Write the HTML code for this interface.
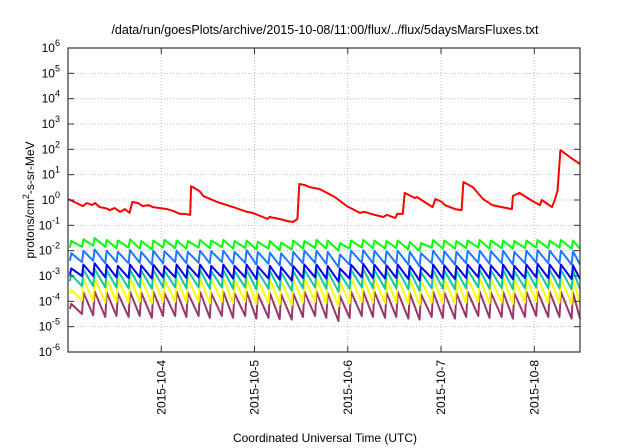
<!DOCTYPE html>
<html><head><meta charset="utf-8"><style>
body{margin:0;background:#fff;}
svg{display:block;font-family:"Liberation Sans",sans-serif;}
</style></head><body>
<svg id="chart" width="640" height="448">
<text x="325" y="34" text-anchor="middle" font-size="12.5">/data/run/goesPlots/archive/2015-10-08/11:00/flux/../flux/5daysMarsFluxes.txt</text>
<text x="325" y="442" text-anchor="middle" font-size="12">Coordinated Universal Time (UTC)</text>
<text transform="translate(34,200) rotate(-90)" text-anchor="middle" font-size="12">protons/cm<tspan dy="-5" font-size="9">2</tspan><tspan dy="5">-s-sr-MeV</tspan></text>
<g id="grid"></g><g id="series"></g><g id="axes"></g>
</svg>
<script>
const xTickLabels=["2015-10-4","2015-10-5","2015-10-6","2015-10-7","2015-10-8"];
const xTickDays=[1,2,3,4,5];
const yTickExps=[-6,-5,-4,-3,-2,-1,0,1,2,3,4,5,6];
const redT=[0,0.16,0.20,0.26,0.29,0.34,0.40,0.45,0.50,0.56,0.61,0.66,0.69,0.75,0.80,0.86,0.91,0.99,1.06,1.13,1.20,1.25,1.31,1.32,1.41,1.45,1.60,1.77,1.92,1.98,2.09,2.14,2.16,2.27,2.35,2.41,2.46,2.48,2.54,2.59,2.70,2.86,2.99,3.13,3.18,3.29,3.38,3.42,3.51,3.53,3.59,3.61,3.72,3.74,3.91,3.94,4.01,4.04,4.15,4.22,4.24,4.34,4.45,4.55,4.65,4.76,4.77,4.84,4.98,5.06,5.08,5.19,5.22,5.25,5.28,5.41,5.49];
const redLog=[0.04,-0.24,-0.12,-0.20,-0.12,-0.28,-0.32,-0.40,-0.32,-0.47,-0.36,-0.51,-0.08,-0.12,-0.24,-0.20,-0.28,-0.32,-0.36,-0.44,-0.55,-0.55,-0.59,0.55,0.35,0.16,-0.08,-0.28,-0.47,-0.51,-0.67,-0.75,-0.67,-0.75,-0.83,-0.87,-0.75,0.63,0.59,0.51,0.43,0.12,-0.24,-0.51,-0.47,-0.59,-0.67,-0.59,-0.71,-0.55,-0.55,0.28,0.08,0.12,-0.28,0.04,-0.08,-0.20,-0.36,-0.40,0.71,0.51,0.04,-0.20,-0.28,-0.36,0.16,0.28,-0.04,-0.20,0.00,-0.28,0.00,0.39,1.97,1.62,1.42];
const teethT=[0.02,0.15,0.27,0.40,0.52,0.65,0.77,0.90,1.02,1.15,1.27,1.40,1.52,1.65,1.77,1.90,2.02,2.15,2.27,2.40,2.52,2.65,2.77,2.90,3.02,3.15,3.27,3.40,3.52,3.65,3.77,3.90,4.02,4.15,4.27,4.40,4.52,4.65,4.77,4.90,5.02,5.15,5.27,5.40];
const greenPeak=[-1.62,-1.55,-1.50,-1.58,-1.60,-1.55,-1.62,-1.60,-1.57,-1.60,-1.62,-1.58,-1.60,-1.58,-1.62,-1.60,-1.65,-1.62,-1.68,-1.60,-1.62,-1.58,-1.60,-1.70,-1.60,-1.58,-1.60,-1.62,-1.60,-1.65,-1.70,-1.58,-1.60,-1.62,-1.60,-1.58,-1.60,-1.60,-1.62,-1.60,-1.58,-1.60,-1.58,-1.60];
const greenLow=[-1.88,-1.85,-1.80,-1.85,-1.90,-1.88,-1.92,-1.95,-1.88,-1.90,-1.92,-1.88,-1.90,-1.86,-1.92,-1.90,-1.95,-1.92,-1.98,-1.95,-1.92,-1.90,-1.92,-2.00,-1.92,-1.88,-1.90,-1.92,-1.90,-1.95,-2.02,-1.88,-1.92,-1.92,-1.90,-1.88,-1.92,-1.90,-1.92,-1.90,-1.88,-1.90,-1.88,-1.92];
const lblPeak=[-2.10,-2.00,-1.95,-2.00,-2.05,-1.98,-2.05,-2.00,-2.02,-2.00,-2.05,-2.00,-2.02,-2.00,-2.05,-1.98,-2.05,-2.08,-2.10,-2.05,-2.00,-2.00,-2.05,-2.15,-2.00,-1.98,-2.00,-2.02,-2.00,-2.05,-2.10,-2.00,-2.02,-2.05,-2.00,-2.00,-2.02,-2.00,-2.05,-2.00,-1.98,-2.00,-2.00,-2.02];
const lblLow=[-2.40,-2.45,-2.40,-2.50,-2.45,-2.50,-2.48,-2.55,-2.50,-2.45,-2.50,-2.48,-2.50,-2.45,-2.52,-2.48,-2.55,-2.52,-2.58,-2.60,-2.50,-2.48,-2.52,-2.65,-2.55,-2.48,-2.50,-2.52,-2.50,-2.55,-2.62,-2.50,-2.52,-2.55,-2.50,-2.48,-2.52,-2.50,-2.55,-2.50,-2.48,-2.50,-2.50,-2.55];
const bluePeak=[-2.70,-2.55,-2.50,-2.55,-2.60,-2.55,-2.58,-2.55,-2.60,-2.55,-2.58,-2.55,-2.60,-2.55,-2.60,-2.55,-2.62,-2.60,-2.65,-2.60,-2.55,-2.55,-2.60,-2.70,-2.55,-2.52,-2.55,-2.58,-2.55,-2.60,-2.65,-2.55,-2.58,-2.60,-2.55,-2.55,-2.58,-2.55,-2.60,-2.55,-2.52,-2.55,-2.55,-2.58];
const blueLow=[-2.95,-3.00,-3.00,-3.05,-3.05,-3.08,-3.05,-3.10,-3.05,-3.05,-3.08,-3.05,-3.10,-3.05,-3.10,-3.05,-3.12,-3.10,-3.15,-3.18,-3.08,-3.05,-3.10,-3.22,-3.10,-3.05,-3.08,-3.10,-3.08,-3.12,-3.18,-3.08,-3.10,-3.12,-3.08,-3.05,-3.10,-3.08,-3.12,-3.08,-3.05,-3.08,-3.08,-3.12];
const tealPeak=[-2.95,-2.75,-2.72,-2.78,-2.80,-2.75,-2.78,-2.75,-2.80,-2.75,-2.78,-2.75,-2.80,-2.75,-2.80,-2.75,-2.82,-2.80,-2.85,-2.80,-2.75,-2.75,-2.80,-2.90,-2.75,-2.72,-2.75,-2.78,-2.75,-2.80,-2.85,-2.75,-2.78,-2.80,-2.75,-2.75,-2.78,-2.75,-2.80,-2.75,-2.72,-2.75,-2.75,-2.78];
const tealLow=[-3.20,-3.40,-3.40,-3.45,-3.45,-3.48,-3.45,-3.50,-3.45,-3.45,-3.48,-3.45,-3.50,-3.45,-3.50,-3.45,-3.52,-3.50,-3.55,-3.58,-3.48,-3.45,-3.50,-3.62,-3.50,-3.45,-3.48,-3.50,-3.48,-3.52,-3.58,-3.48,-3.50,-3.52,-3.48,-3.45,-3.50,-3.48,-3.52,-3.48,-3.45,-3.48,-3.48,-3.52];
const yelPeak=[-3.55,-3.10,-3.05,-3.10,-3.12,-3.08,-3.10,-3.08,-3.12,-3.08,-3.10,-3.08,-3.12,-3.08,-3.12,-3.08,-3.15,-3.12,-3.18,-3.12,-3.08,-3.08,-3.12,-3.22,-3.08,-3.05,-3.08,-3.10,-3.08,-3.12,-3.18,-3.08,-3.10,-3.12,-3.08,-3.08,-3.10,-3.08,-3.12,-3.08,-3.05,-3.08,-3.08,-3.10];
const yelLow=[-3.70,-3.95,-4.00,-4.05,-4.02,-4.05,-4.02,-4.08,-4.02,-4.02,-4.05,-4.02,-4.08,-4.02,-4.08,-4.02,-4.10,-4.08,-4.12,-4.15,-4.05,-4.02,-4.08,-4.20,-4.08,-4.02,-4.05,-4.08,-4.05,-4.10,-4.15,-4.05,-4.08,-4.10,-4.05,-4.02,-4.08,-4.05,-4.10,-4.05,-4.02,-4.05,-4.05,-4.10];
const purPeak=[-4.10,-3.65,-3.60,-3.65,-3.68,-3.62,-3.65,-3.62,-3.68,-3.62,-3.65,-3.62,-3.68,-3.62,-3.68,-3.62,-3.70,-3.68,-3.72,-3.68,-3.62,-3.62,-3.68,-3.78,-3.62,-3.60,-3.62,-3.65,-3.62,-3.68,-3.72,-3.62,-3.65,-3.68,-3.62,-3.62,-3.65,-3.62,-3.68,-3.62,-3.60,-3.62,-3.62,-3.65];
const purLow=[-4.30,-4.50,-4.55,-4.62,-4.58,-4.62,-4.58,-4.65,-4.58,-4.58,-4.62,-4.58,-4.65,-4.58,-4.65,-4.58,-4.68,-4.65,-4.70,-4.72,-4.62,-4.58,-4.65,-4.78,-4.65,-4.58,-4.62,-4.65,-4.62,-4.68,-4.72,-4.62,-4.65,-4.68,-4.62,-4.58,-4.65,-4.62,-4.68,-4.62,-4.58,-4.62,-4.62,-4.68];

const X0=68,X1=580,Y0=48,Y1=352,DMAX=5.49,EMIN=-6,EMAX=6;
const xs=d=>X0+(d/DMAX)*(X1-X0);
const ys=l=>Y1-(l-EMIN)/(EMAX-EMIN)*(Y1-Y0);
const NS="http://www.w3.org/2000/svg";
function mk(tag,parent,attrs){const e=document.createElementNS(NS,tag);for(const k in attrs)e.setAttribute(k,attrs[k]);parent.appendChild(e);return e;}
const grid=document.getElementById('grid'),axes=document.getElementById('axes'),ser=document.getElementById('series');
yTickExps.forEach(e=>{
  const y=ys(e);
  if(e>EMIN&&e<EMAX){const g=mk('line',grid,{x1:X0,x2:X1,y1:y,y2:y,stroke:'#bbb','stroke-dasharray':'1,2','stroke-width':1});
  
  }
  mk('line',axes,{x1:X0,x2:X0+6,y1:y,y2:y,stroke:'#333'});
  mk('line',axes,{x1:X1,x2:X1-6,y1:y,y2:y,stroke:'#333'});
  const t=mk('text',axes,{x:X0-8,y:y+4,'text-anchor':'end','font-size':12});
  
  
  t.textContent='10';
  const s=mk('tspan',t,{dy:-6,'font-size':9});s.textContent=String(e);
});
xTickDays.forEach((d,i)=>{
  const x=xs(d);
  const g=mk('line',grid,{x1:x,x2:x,y1:Y0,y2:Y1,stroke:'#bbb','stroke-dasharray':'1,2','stroke-width':1});
  
  
  mk('line',axes,{x1:x,x2:x,y1:Y1,y2:Y1-6,stroke:'#333'});
  mk('line',axes,{x1:x,x2:x,y1:Y0,y2:Y0+6,stroke:'#333'});
  const t=mk('text',axes,{transform:`translate(${x+4},${Y1+8}) rotate(-90)`,'text-anchor':'end','font-size':12});
  
  
  t.textContent=xTickLabels[i];
});
const fr=mk('rect',axes,{x:X0,y:Y0,width:X1-X0,height:Y1-Y0,fill:'none',stroke:'#333','stroke-width':1.2});


function saw(peaks,lows,color,name){
  let pts=[];
  teethT.forEach((t,i)=>{pts.push([t,lows[i]]);pts.push([t+0.015,peaks[i]]);});
  pts.push([DMAX,lows[lows.length-1]]);
  const p=mk('polyline',ser,{points:pts.map(q=>xs(q[0]).toFixed(1)+','+ys(q[1]).toFixed(1)).join(' '),fill:'none',stroke:color,'stroke-width':2,'stroke-linejoin':'round'});
  
  
}
saw(purPeak,purLow,'#9a3668','series-purple');
saw(yelPeak,yelLow,'#ffff00','series-yellow');
saw(tealPeak,tealLow,'#10c8a0','series-teal');
saw(bluePeak,blueLow,'#0000ee','series-blue');
saw(lblPeak,lblLow,'#1e78ff','series-light-blue');
saw(greenPeak,greenLow,'#00ff00','series-green');
const r=mk('polyline',ser,{points:redT.map((t,i)=>xs(t).toFixed(1)+','+ys(redLog[i]).toFixed(1)).join(' '),fill:'none',stroke:'#ff0000','stroke-width':2,'stroke-linejoin':'round'});


</script>
</body></html>
